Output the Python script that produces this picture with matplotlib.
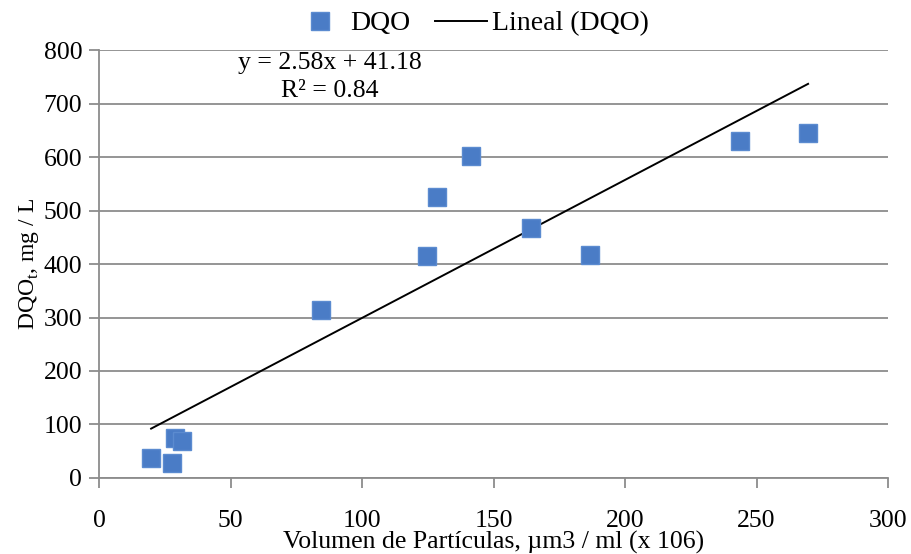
"""DQO vs particle volume scatter with linear trend."""

import numpy as np
from matplotlib import pyplot as plt

plt.rcParams['font.family'] = ['Liberation Serif', 'DejaVu Serif']

volumen = [19.8, 27.8, 28.9, 31.6, 84.4, 124.7, 128.5, 141.4, 164.3, 186.7, 243.7, 269.6]
dqo = [37, 28, 75, 69, 314, 415, 525, 602, 467, 417, 630, 645]
pendiente = 2.58
intercepto = 41.18
r2 = 0.84

grid_color = '#8c8c8c'
fs = 18.5
fs_leg = 20

fig = plt.figure(figsize=(9.11, 5.54), dpi=100)
ax = fig.add_axes([0.1087, 0.1372, 0.8661, 0.7725])

puntos, = ax.plot(volumen, dqo, 's', color='#4a7cc6', markeredgecolor='#5b8bd0',
                  markersize=12.5, label='DQO', zorder=3)
x_fit = np.array([min(volumen), max(volumen)])
tendencia, = ax.plot(x_fit, pendiente * x_fit + intercepto, color='black',
                     linewidth=1.4, label='Lineal (DQO)', zorder=2)

ax.set_xlim(0, 300)
ax.set_ylim(0, 800)
ax.set_xticks(range(0, 301, 50))
ax.set_yticks(range(0, 801, 100))
ax.grid(True, axis='y', color=grid_color, linewidth=1.3)
ax.set_axisbelow(True)
for side in ('top', 'right'):
    ax.spines[side].set_visible(False)
for side in ('left', 'bottom'):
    ax.spines[side].set_color(grid_color)
    ax.spines[side].set_linewidth(1.3)
ax.tick_params(axis='both', colors=grid_color, width=1.3, length=7,
               labelcolor='black', labelsize=fs)
ax.tick_params(axis='x', pad=16)
ax.tick_params(axis='y', pad=5)

ax.set_xlabel('Volumen de Partículas, µm3 / ml (x 106)', fontsize=fs, labelpad=-1)
ax.set_ylabel('DQO$_\\mathregular{t}$, mg / L', fontsize=17, labelpad=2)

ax.text((330 - 99) / 789, 1.0 - (52 - 50) / 428,
        f'y = {pendiente}x + {intercepto}\nR² = {r2}',
        transform=ax.transAxes, fontsize=fs, ha='center', va='top',
        linespacing=1.35)

# two separate legend boxes so each handle gets its own length
fig.legend(handles=[puntos], loc='upper left',
           bbox_to_anchor=(306 / 911, 1 - 11 / 554), frameon=False,
           fontsize=fs_leg, handlelength=1.0, handletextpad=0.58,
           borderpad=0, borderaxespad=0)
fig.legend(handles=[tendencia], loc='upper left',
           bbox_to_anchor=(435 / 911, 1 - 11 / 554), frameon=False,
           fontsize=fs_leg, handlelength=1.87, handletextpad=0.18,
           borderpad=0, borderaxespad=0)

fig.savefig('out.png', dpi=100)
